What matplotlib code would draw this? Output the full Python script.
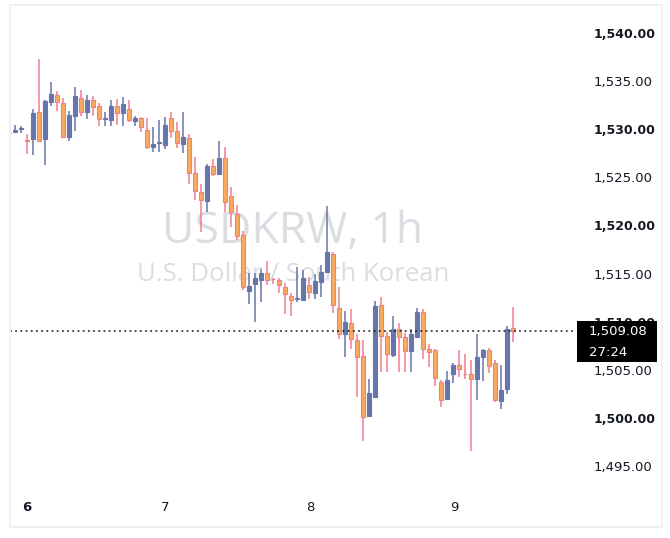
import numpy as np
import matplotlib
matplotlib.use("Agg")
from matplotlib import pyplot as plt
from matplotlib.patches import Rectangle

# hourly candles USDKRW (open, high, low, close)
opens = [1529.61, 1529.71, 1530.02, 1528.88, 1528.98, 1531.79, 1528.98, 1532.83, 1533.56, 1532.73,
         1529.19, 1531.37, 1533.24, 1531.79, 1533.04, 1532.41, 1531.06, 1530.96, 1532.41, 1531.69,
         1532.10, 1530.85, 1531.17, 1529.92, 1528.15, 1528.57, 1528.36, 1531.17, 1529.82, 1528.46,
         1529.09, 1525.45, 1523.48, 1522.54, 1526.18, 1525.35, 1527.01, 1523.06, 1521.19, 1519.01,
         1513.19, 1513.91, 1514.33, 1515.06, 1514.48, 1514.33, 1513.60, 1512.67, 1512.40, 1512.25,
         1513.81, 1512.98, 1514.12, 1515.16, 1517.03, 1511.42, 1508.72, 1509.86, 1508.09, 1506.43,
         1500.19, 1502.17, 1511.73, 1508.51, 1506.53, 1509.24, 1508.40, 1506.95, 1508.40, 1511.00,
         1507.16, 1507.05, 1503.73, 1501.96, 1504.56, 1505.50, 1504.60, 1504.56, 1504.04, 1506.33,
         1507.05, 1505.70, 1501.75, 1503.00, 1509.34]
highs = [1529.71, 1530.44, 1530.33, 1529.50, 1532.10, 1537.30, 1533.04, 1534.91, 1533.97, 1533.24,
         1531.89, 1534.39, 1534.08, 1533.56, 1533.45, 1532.73, 1531.79, 1533.04, 1533.14, 1533.35,
         1533.04, 1531.37, 1531.27, 1531.17, 1530.23, 1530.96, 1531.27, 1531.79, 1530.75, 1531.79,
         1529.50, 1527.11, 1524.31, 1526.39, 1526.90, 1528.78, 1528.15, 1523.99, 1522.12, 1519.42,
         1515.06, 1515.06, 1515.47, 1516.30, 1514.54, 1514.54, 1514.02, 1512.98, 1515.68, 1515.37,
         1514.64, 1514.95, 1515.89, 1522.02, 1517.24, 1513.60, 1511.11, 1511.32, 1508.72, 1508.09,
         1504.04, 1512.15, 1512.56, 1508.92, 1510.59, 1509.86, 1508.82, 1509.24, 1511.42, 1511.32,
         1507.68, 1507.16, 1503.94, 1504.87, 1505.70, 1507.05, 1506.64, 1506.02, 1508.72, 1507.16,
         1507.26, 1506.02, 1505.50, 1509.55, 1511.52]
lows = [1529.50, 1529.61, 1529.61, 1527.42, 1527.32, 1528.67, 1526.28, 1532.41, 1531.89, 1529.09,
        1528.78, 1529.82, 1531.37, 1531.06, 1531.37, 1530.33, 1530.33, 1530.33, 1530.44, 1530.33,
        1530.75, 1530.33, 1529.71, 1527.94, 1527.63, 1527.63, 1527.94, 1529.09, 1528.05, 1527.53,
        1524.31, 1522.64, 1519.32, 1521.40, 1525.14, 1525.35, 1521.40, 1519.84, 1518.49, 1513.29,
        1511.84, 1509.96, 1512.04, 1513.81, 1513.91, 1512.98, 1510.80, 1510.59, 1512.04, 1512.25,
        1512.35, 1512.35, 1512.56, 1515.16, 1510.90, 1508.20, 1506.33, 1507.16, 1502.17, 1497.60,
        1500.19, 1502.17, 1504.77, 1504.77, 1506.33, 1504.77, 1504.77, 1504.77, 1508.40, 1506.12,
        1505.29, 1503.31, 1501.13, 1501.96, 1503.62, 1504.25, 1504.04, 1496.56, 1501.86, 1503.83,
        1504.66, 1501.65, 1500.92, 1502.48, 1507.89]
closes = [1529.61, 1529.92, 1530.13, 1528.78, 1531.69, 1528.78, 1532.93, 1533.66, 1532.83, 1529.19,
          1531.48, 1533.45, 1531.79, 1533.04, 1532.31, 1531.06, 1531.17, 1532.41, 1531.69, 1532.62,
          1530.96, 1531.17, 1530.23, 1528.15, 1528.46, 1528.67, 1530.44, 1529.82, 1528.57, 1529.19,
          1525.45, 1523.58, 1522.64, 1526.18, 1525.35, 1527.01, 1522.44, 1521.40, 1518.90, 1513.60,
          1513.71, 1514.54, 1515.06, 1514.33, 1514.43, 1513.81, 1512.87, 1512.25, 1512.46, 1514.54,
          1513.08, 1514.23, 1515.16, 1517.24, 1511.73, 1508.72, 1509.96, 1508.20, 1506.33, 1500.09,
          1502.58, 1511.63, 1508.51, 1506.64, 1509.24, 1508.40, 1506.95, 1508.72, 1511.00, 1507.16,
          1506.85, 1504.14, 1501.86, 1503.94, 1505.50, 1505.08, 1504.56, 1504.04, 1506.33, 1507.05,
          1505.39, 1501.86, 1502.90, 1509.24, 1509.08]

day_labels = ["6", "7", "8", "9"]
day_pos = [3, 26, 50.2, 74.2]
price_ticks = [1495, 1500, 1505, 1510, 1515, 1520, 1525, 1530, 1535, 1540]
last_price = closes[-1]
countdown = "27:24"
title = "USDKRW, 1h"
subtitle = "U.S. Dollar / South Korean"

UP = "#6675aa"
DOWN_FILL = "#f9ab5c"
DOWN_EDGE = "#f07f8c"
TXT = "#131722"

W, H = 670, 538
fig = plt.figure(figsize=(W / 100, H / 100), dpi=100)
fig.patch.set_facecolor("white")


def fx(px):
    return px / W


def fy(py):
    return 1 - py / H


ax = fig.add_axes([fx(10), fy(490), (576 - 10) / W, (490 - 6) / H])
ax.set_xlim((10 - 9) / 6, (576 - 9) / 6)
ax.set_ylim(1492.504, 1542.806)
for s in ax.spines.values():
    s.set_visible(False)

# watermark
ax.text(0.5, 0.5103, title, transform=ax.transAxes, ha="center", va="baseline",
        fontsize=32, color="#dcdde2", family="Open Sans", zorder=0)
ax.text(0.5, 0.4318, subtitle, transform=ax.transAxes, ha="center", va="baseline",
        fontsize=18.5, color="#dcdde2", family="Open Sans", zorder=0)

x = np.arange(len(opens))
o = np.array(opens)
c = np.array(closes)
up = c >= o
bottoms = np.minimum(o, c)
heights = np.maximum(np.abs(c - o), 0.04)

ax.vlines(x[up], np.array(lows)[up], np.array(highs)[up], color=UP, lw=1.1, zorder=2)
ax.vlines(x[~up], np.array(lows)[~up], np.array(highs)[~up], color=DOWN_EDGE, lw=1.1, zorder=2)
ax.bar(x[up], heights[up], bottom=bottoms[up], width=0.72, color=UP,
       edgecolor=UP, linewidth=0.8, zorder=3)
ax.bar(x[~up], heights[~up], bottom=bottoms[~up], width=0.72, color=DOWN_FILL,
       edgecolor=DOWN_EDGE, linewidth=0.8, zorder=3)

# last price line
ax.axhline(last_price, color=TXT, lw=1.1, linestyle=(0, (1.2, 2.2)), zorder=4)

# price axis
ax.yaxis.tick_right()
ax.set_yticks(price_ticks)
ax.set_yticklabels([f"{p:,.2f}" for p in price_ticks])
ax.tick_params(axis="y", length=0, pad=13, labelsize=9.5, labelcolor=TXT)
for p, lab in zip(price_ticks, ax.get_yticklabels()):
    if p % 10 == 0:
        lab.set_fontweight("bold")
        lab.set_fontsize(9)

# time axis
ax.set_xticks(day_pos)
ax.set_xticklabels(day_labels)
ax.tick_params(axis="x", length=0, pad=8, labelsize=9.5, labelcolor=TXT)
ax.get_xticklabels()[0].set_fontweight("bold")

# last price tag
fig.patches.append(Rectangle((fx(577), fy(362)), (657 - 577) / W, (362 - 321) / H,
                             transform=fig.transFigure, facecolor="black",
                             edgecolor="none", zorder=5))
fig.text(fx(589), fy(332), f"{last_price:,.2f}", color="white", fontsize=9.5,
         va="center", ha="left", zorder=6)
fig.text(fx(589), fy(352), countdown, color="white", fontsize=9.5,
         va="center", ha="left", zorder=6)

# outer frame
fig.patches.append(Rectangle((fx(10), fy(527)), (662 - 10) / W, (527 - 5) / H,
                             transform=fig.transFigure, facecolor="none",
                             edgecolor="#f0f0f2", lw=1.5, zorder=1))

fig.savefig("out.png", dpi=100)
